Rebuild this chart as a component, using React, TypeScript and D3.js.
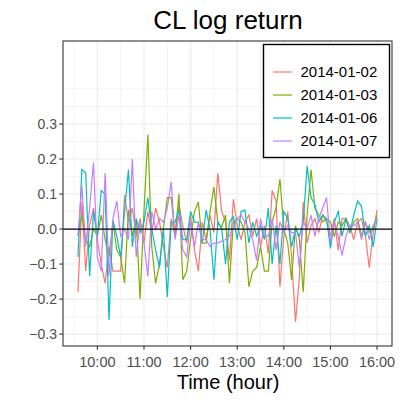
import React from "react";
import * as d3 from "d3";

// dates shown in the legend
const days = ["2014-01-02", "2014-01-03", "2014-01-06", "2014-01-07"];
const colors = ["#F8766D", "#7CAE00", "#00BFC4", "#C77CFF"];

// 5-minute bars from 9:35 to 16:00 (minutes since midnight)
const startMin = 575;
const stepMin = 5;

const ret0102 = [
  -0.18, 0.077, -0.12, 0.01, 0.06, -0.03, -0.1, -0.155, -0.05, -0.12,
  -0.12, -0.12, 0.097, 0.02, 0.06, -0.02, 0.03, -0.04, 0.05, -0.01,
  0.06, 0.02, -0.05, -0.11, 0.03, -0.02, 0.07, 0.01, -0.04, 0.04,
  -0.06, -0.12, 0.02, -0.03, 0.04, -0.01, 0.16, 0.05, 0.02, -0.09,
  0.085, 0.01, -0.03, 0.02, 0.04, -0.02, 0.03, -0.05, 0.01, -0.07,
  0.11, 0.08, -0.165, -0.02, 0.05, -0.08, -0.265, -0.14, 0.077, -0.04,
  0.01, 0.03, -0.01, 0.04, 0.02, -0.02, 0.03, -0.06, 0.03, 0.03,
  0.01, -0.03, 0.02, 0.03, -0.02, -0.11, -0.01, 0.054,
];
const ret0103 = [
  -0.02, 0.04, -0.03, -0.05, 0.0, -0.02, 0.04, -0.03, -0.08, 0.02,
  -0.06, -0.08, -0.155, 0.054, -0.02, 0.03, -0.2, 0.05, 0.27, -0.05,
  -0.155, -0.1, 0.0, 0.09, 0.09, -0.02, 0.1, -0.145, -0.12, -0.03,
  0.05, 0.077, -0.04, -0.04, 0.05, 0.12, 0.02, 0.005, 0.04, -0.155,
  0.02, 0.03, 0.02, -0.01, -0.165, -0.12, -0.11, -0.05, -0.12, -0.12,
  0.02, 0.06, 0.143, 0.0, -0.04, -0.145, 0.01, -0.03, -0.18, 0.04,
  0.17, 0.06, 0.04, 0.02, 0.03, 0.02, -0.02, 0.02, 0.01, 0.03,
  -0.01, 0.02, 0.03, -0.02, 0.02, -0.01, 0.0, 0.04,
];
const ret0106 = [
  -0.08, 0.17, 0.16, -0.135, 0.05, -0.02, 0.11, 0.1, -0.26, 0.025,
  -0.02, -0.08, 0.05, 0.17, -0.05, 0.03, -0.01, 0.02, 0.09, 0.0,
  -0.06, -0.11, 0.0, -0.195, 0.02, 0.02, 0.054, -0.03, -0.03, 0.05,
  0.02, 0.02, -0.04, 0.055, 0.0, -0.145, 0.02, 0.0, -0.1, 0.02,
  0.035, -0.03, 0.05, 0.054, -0.04, 0.02, -0.02, 0.01, -0.03, 0.06,
  -0.1, 0.01, -0.1, 0.05, 0.03, -0.05, 0.0, -0.02, 0.02, 0.18,
  0.09, 0.07, 0.02, 0.04, 0.03, -0.055, 0.02, 0.05, -0.02, 0.03,
  -0.01, 0.04, 0.08, 0.065, -0.02, 0.01, -0.05, 0.03,
];
const ret0107 = [
  -0.02, 0.125, -0.05, 0.06, 0.19, -0.08, -0.12, 0.16, -0.135, 0.03,
  0.08, -0.02, 0.0, -0.03, 0.2, -0.08, 0.02, -0.04, -0.135, 0.05,
  0.0, 0.03, 0.02, 0.06, 0.135, -0.03, 0.04, -0.06, -0.08, 0.02,
  -0.05, 0.02, -0.03, -0.03, -0.05, -0.04, -0.04, -0.035, -0.03, -0.02,
  0.0, 0.03, 0.04, 0.02, 0.0, -0.03, -0.09, 0.03, -0.02, -0.02,
  0.03, -0.06, 0.02, -0.01, 0.01, -0.01, -0.01, -0.11, 0.02, 0.0,
  0.04, -0.02, 0.03, 0.06, 0.09, -0.04, 0.02, -0.02, -0.075, -0.02,
  0.01, 0.01, 0.02, -0.03, 0.02, -0.03, 0.01, 0.03,
];
const series = [ret0102, ret0103, ret0106, ret0107];

const hourTicks = [600, 660, 720, 780, 840, 900, 960];
const hourLabels = ["10:00", "11:00", "12:00", "13:00", "14:00", "15:00", "16:00"];
const halfHours = [570, 630, 690, 750, 810, 870, 930];
const yTicks = [-0.3, -0.2, -0.1, 0.0, 0.1, 0.2, 0.3];
const yMinor = [-0.25, -0.15, -0.05, 0.05, 0.15, 0.25, 0.35, 0.4];

const font = "'Liberation Sans', Arial, sans-serif";

export default function App() {
  const W = 400, H = 400;
  const left = 63, right = 392, top = 41, bottom = 346;

  const x = d3.scaleLinear().domain([555.75, 979.25]).range([left, right]);
  const y = d3.scaleLinear().domain([-0.334, 0.537]).range([bottom, top]);

  const line = d3.line<number>()
    .x((d, i) => x(startMin + i * stepMin))
    .y(d => y(d));

  return (
    <svg width={W} height={H} style={{ position: "absolute", left: 0, top: 0, fontFamily: font }}>
      <rect x={0} y={0} width={W} height={H} fill="white" />
      <text x={228} y={29} textAnchor="middle" fontSize={26} fill="black">CL log return</text>

      {/* grid */}
      {yMinor.map(v => (
        <line key={"ym" + v} x1={left} x2={right} y1={y(v)} y2={y(v)} stroke="#F0F0F0" strokeWidth={0.8} />
      ))}
      {halfHours.map(v => (
        <line key={"xm" + v} x1={x(v)} x2={x(v)} y1={top} y2={bottom} stroke="#F0F0F0" strokeWidth={0.8} />
      ))}
      {yTicks.map(v => (
        <line key={"yg" + v} x1={left} x2={right} y1={y(v)} y2={y(v)} stroke="#EBEBEB" strokeWidth={1.1} />
      ))}
      {hourTicks.map(v => (
        <line key={"xg" + v} x1={x(v)} x2={x(v)} y1={top} y2={bottom} stroke="#EBEBEB" strokeWidth={1.1} />
      ))}

      {/* series */}
      {series.map((s, k) => (
        <path key={days[k]} d={line(s) || ""} fill="none" stroke={colors[k]} strokeWidth={1.2} />
      ))}

      <line x1={left} x2={right} y1={y(0)} y2={y(0)} stroke="black" strokeWidth={1.3} />
      <rect x={left} y={top} width={right - left} height={bottom - top} fill="none" stroke="#333333" strokeWidth={1.1} />

      {/* y axis */}
      {yTicks.map(v => (
        <g key={"yt" + v}>
          <line x1={left - 3.7} x2={left} y1={y(v)} y2={y(v)} stroke="#333333" strokeWidth={1.1} />
          <text x={left - 6} y={y(v)} dy="0.35em" textAnchor="end" fontSize={14} fill="#4D4D4D">
            {d3.format(".1f")(v)}
          </text>
        </g>
      ))}

      {/* x axis */}
      {hourTicks.map((v, i) => (
        <g key={"xt" + v}>
          <line x1={x(v)} x2={x(v)} y1={bottom} y2={bottom + 3.7} stroke="#333333" strokeWidth={1.1} />
          <text x={x(v)} y={367} textAnchor="middle" fontSize={14.5} fill="#4D4D4D">{hourLabels[i]}</text>
        </g>
      ))}
      <text x={228} y={389} textAnchor="middle" fontSize={20} fill="black">Time (hour)</text>

      {/* legend */}
      <rect x={263.5} y={44.5} width={126} height={113} fill="white" stroke="black" strokeWidth={1.4} />
      {days.map((d, k) => (
        <g key={"lg" + d} transform={`translate(0,${72 + k * 23})`}>
          <line x1={273} x2={292} y1={0} y2={0} stroke={colors[k]} strokeWidth={1.2} />
          <text x={300.5} y={0} dy="0.35em" fontSize={15} fill="black">{d}</text>
        </g>
      ))}
    </svg>
  );
}
